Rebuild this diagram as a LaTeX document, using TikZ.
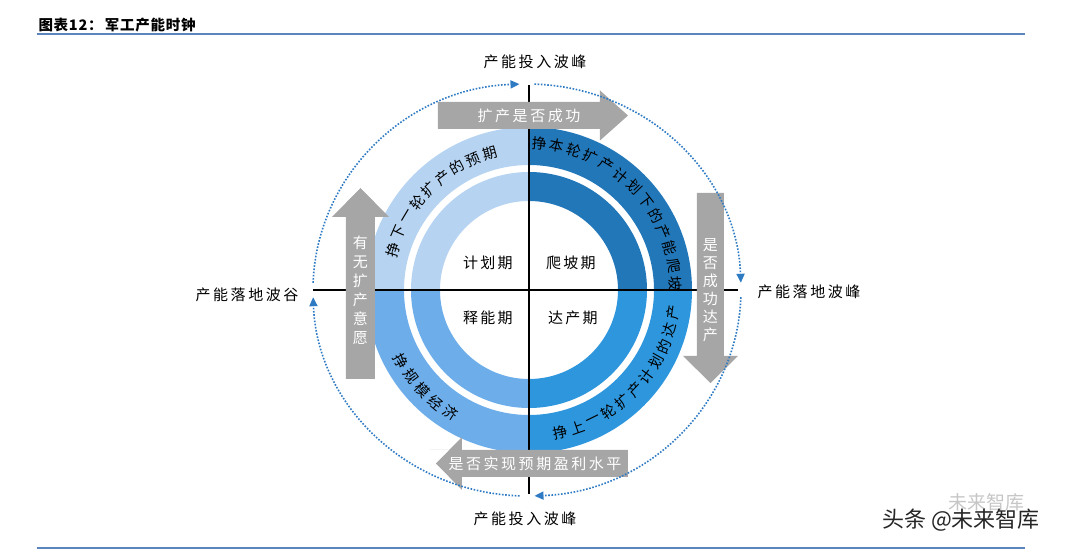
\documentclass[tikz,border=0pt]{standalone}
\usepackage{fontspec}
\setmainfont{Noto Sans CJK SC}
\usepackage{tikz}
\usetikzlibrary{arrows.meta}

\definecolor{qtl}{HTML}{B6D4F2}
\definecolor{qtr}{HTML}{2277B9}
\definecolor{qbr}{HTML}{2D96DD}
\definecolor{qbl}{HTML}{6DAEEA}
\definecolor{arrowgray}{HTML}{A6A6A6}
\definecolor{dotblue}{HTML}{2E7BC4}
\definecolor{rulecol}{HTML}{5A85BD}

\begin{document}
\begin{tikzpicture}[
        x=1pt, y=1pt,
        axis/.style={line width=1.3pt, black},
        dotarc/.style={dotblue, line width=1.6pt, dash pattern=on 1.6pt off 1.6pt, -{Triangle[length=9pt, width=8pt]}},
        blockarrow/.style={fill=arrowgray},
        arrowtext/.style={text=white, font=\fontsize{15}{18}\selectfont\addfontfeature{LetterSpace=17}},
        vtext/.style={text=white, align=center, font=\fontsize{15}{18}\selectfont},
        quad/.style={font=\fontsize{15}{18}\selectfont\addfontfeature{LetterSpace=15}},
        arctext/.style={font=\fontsize{14.5}{18}\selectfont, inner sep=0pt},
        lab/.style={font=\fontsize{15}{18}\selectfont\addfontfeature{LetterSpace=17}},
        titlerule/.style={rulecol, line width=1.5pt}
    ]
    \useasboundingbox (-529,-261) rectangle (551,290);

    % Title
    \node[anchor=west, font=\fontsize{14.5}{16}\selectfont\bfseries\addfontfeature{LetterSpace=5}] (title) at (-494,265) {图表12：\,军工产能时钟};
    \coordinate (rl) at (-492,256);
    \coordinate (rr) at (496,256);
    \coordinate (bl) at (-492,-258);
    \coordinate (br) at (496,-258);
    \draw[titlerule] (rl) -- (rr);
    \draw[titlerule] (bl) -- (br);

    % Rings
    \foreach \s/\c in {0/qtr, 90/qtl, 180/qbl, 270/qbr} {
        \fill[\c] (\s:163) arc[start angle=\s, end angle=\s+90, radius=163] -- ({\s+90}:125) arc[start angle=\s+90, end angle=\s, radius=125] -- cycle;
        \fill[\c] (\s:118) arc[start angle=\s, end angle=\s+90, radius=118] -- ({\s+90}:89) arc[start angle=\s+90, end angle=\s, radius=89] -- cycle;
    }

    % Axes
    \coordinate (xl) at (-216,0);
    \coordinate (xr) at (209,0);
    \coordinate (yt) at (0,205);
    \coordinate (yb) at (0,-204);
    \draw[axis] (xl) -- (xr);
    \draw[axis] (yt) -- (yb);

    % Block arrows
    \fill[blockarrow] (-91,161) -- (71,161) -- (71,149.5) -- (99,174.5) -- (71,199.5) -- (71,188) -- (-91,188) -- cycle;
    \fill[blockarrow] (168,97) -- (195,97) -- (195,-66) -- (209,-66) -- (181.5,-93) -- (154,-66) -- (168,-66) -- cycle;
    \fill[blockarrow] (-99,-160) -- (-67,-160) -- (-67,-147) -- (-93,-173.5) -- (-67,-200) -- (-67,-187) -- (99,-187) -- (99,-160) -- cycle;
    \fill[blockarrow] (-183,-89) -- (-154,-89) -- (-154,73) -- (-140,73) -- (-168.5,102) -- (-197,73) -- (-183,73) -- cycle;

    % Dotted clock
    \coordinate (dc) at (-2,0);
    \draw[dotarc] (dc) ++(178:214 and 206) arc[start angle=178, end angle=92, x radius=214, y radius=206];
    \draw[dotarc] (dc) ++(88:214 and 206) arc[start angle=88, end angle=2, x radius=214, y radius=206];
    \draw[dotarc] (dc) ++(-2:214 and 206) arc[start angle=-2, end angle=-88, x radius=214, y radius=206];
    \draw[dotarc] (dc) ++(-92:214 and 206) arc[start angle=-92, end angle=-178, x radius=214, y radius=206];

    % Nodes
    \node[arrowtext] (success) at (0,174.5) {扩产是否成功};
    \node[vtext] (reach) at (181.5,0) {是\\否\\成\\功\\达\\产};
    \node[arrowtext] (profit) at (6,-173.5) {是否实现预期盈利水平};
    \node[vtext, font=\fontsize{15}{19}\selectfont] (will) at (-168.5,0) {有\\无\\扩\\产\\意\\愿};

    \node[quad] (plan) at (-41,27) {计划期};
    \node[quad] (ramp) at (42,27) {爬坡期};
    \node[quad] (release) at (-41,-28) {释能期};
    \node[quad] (full) at (44,-28) {达产期};

    \node[lab] (peaktop) at (6,228) {产能投入波峰};
    \node[lab] (peakbot) at (-4,-229) {产能投入波峰};
    \node[lab] (trough) at (-282,-5) {产能落地波谷};
    \node[lab] (peakright) at (280,-2) {产能落地波峰};

    % Text on the ring
    \foreach \ch [count=\i from 0] in {挣,下,一,轮,扩,产,的,预,期} {
        \pgfmathsetmacro\a{163.5-7.2*\i}
        \node[arctext, rotate=\a-90] (tl\i) at (\a:142) {\ch};
    }
    \foreach \ch [count=\i from 0] in {挣,本,轮,扩,产,计,划,下,的,产,能,爬,坡} {
        \pgfmathsetmacro\a{86-6.95*\i}
        \node[arctext, rotate=\a-90] (tr\i) at (\a:147) {\ch};
    }
    \foreach \ch [count=\i from 0] in {挣,上,一,轮,扩,产,计,划,的,达,产} {
        \pgfmathsetmacro\a{-77.4+6.84*\i}
        \node[arctext, rotate=\a+90] (rb\i) at (\a:146) {\ch};
    }
    \foreach \ch [count=\i from 0] in {挣,规,模,经,济} {
        \pgfmathsetmacro\a{209+7.1*\i}
        \node[arctext, rotate=\a+90] (lb\i) at (\a:146) {\ch};
    }

    % Watermark
    \node[text=gray!45, font=\fontsize{19}{20}\selectfont] (ghost) at (457,-212) {未来智库};
    \node[text=black!85, font=\fontsize{22}{24}\selectfont] (mark) at (432,-230) {头条 @未来智库};

\end{tikzpicture}
\end{document}
